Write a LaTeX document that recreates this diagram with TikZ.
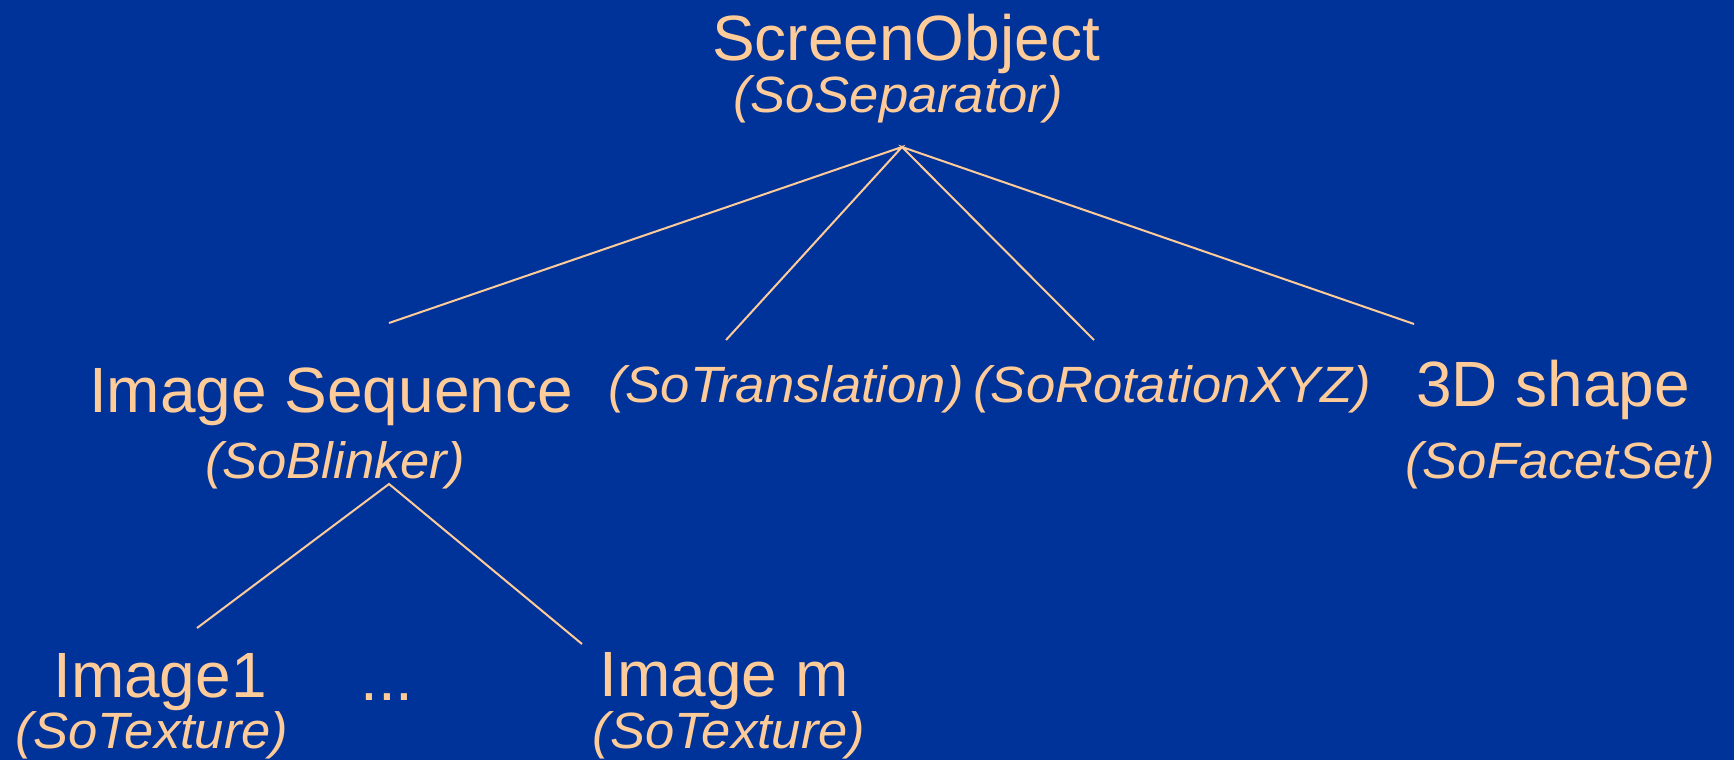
\documentclass[tikz,border=0pt]{standalone}
\usepackage{fontspec}
\setmainfont{Liberation Sans}
\newfontfamily\clsfont{Liberation Sans}[FakeStretch=1.03]
\definecolor{bg}{RGB}{0,51,153}
\definecolor{fg}{RGB}{255,204,153}
\tikzset{
  lbl/.style={anchor=base, text=fg, inner sep=0pt, font=\fontsize{64}{70}\selectfont},
  cls/.style={anchor=base, text=fg, inner sep=0pt, font=\clsfont\itshape\fontsize{51}{56}\selectfont},
  link/.style={draw=fg, line width=2pt}
}
\begin{document}
\begin{tikzpicture}[x=1pt,y=-1pt]
\fill[bg] (0,0) rectangle (1734,760);
\useasboundingbox (0,0) rectangle (1734,760);
% nodes
\node[lbl] (so) at (906,60) {ScreenObject};
\node[cls] (sep) at (898,112) {(SoSeparator)};
\node[lbl] (seq) at (331,412) {Image Sequence};
\node[cls] (blink) at (335,478) {(SoBlinker)};
\node[cls] (trans) at (786,402) {(SoTranslation)};
\node[cls] (rot) at (1172,402) {(SoRotationXYZ)};
\node[lbl] (shape) at (1553,406) {3D shape};
\node[cls] (facet) at (1560,478) {(SoFacetSet)};
\node[lbl] (img1) at (160,697) {Image1};
\node[lbl] (dots) at (387,700) {...};
\node[lbl] (imgm) at (724,696) {Image m};
\node[cls] (tex1) at (152,748) {(SoTexture)};
\node[cls] (texm) at (729,748) {(SoTexture)};
% connector end points
\coordinate (r) at (902,147);
\coordinate (r1) at (389,323);
\coordinate (r2) at (726,340);
\coordinate (r3) at (1094,340);
\coordinate (r4) at (1414,324);
\coordinate (b) at (389,484);
\coordinate (b1) at (197,628);
\coordinate (b2) at (582,644);
% connectors
\draw[link] (r1) -- (r) -- (r2);
\draw[link] (r3) -- (r) -- (r4);
\draw[link] (b1) -- (b) -- (b2);
\end{tikzpicture}
\end{document}
